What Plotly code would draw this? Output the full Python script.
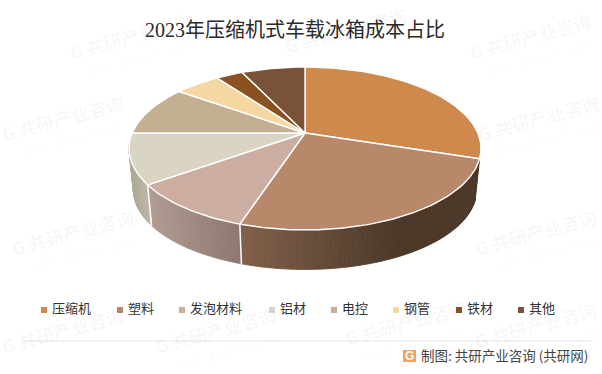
import math
import plotly.graph_objects as go

# ---- data ----
categories = ["压缩机", "塑料", "发泡材料", "铝材", "电控", "钢管", "铁材", "其他"]
values = [30, 25, 10, 10, 10, 5, 3, 7]
title_text = "2023年压缩机式车载冰箱成本占比"
source_text = "制图: 共研产业咨询 (共研网)"

# ---- styles ----
colors = ["#D0894C", "#B8886B", "#CBADA1", "#DAD5C3", "#C4AF92", "#F5D7A2", "#8A5220", "#7A5238"]
side_ramp = {1: ("#806049", "#4A3728"), 2: ("#B19B92", "#8C7870"), 3: ("#B0A998", "#BDB6A5")}
legend_marker_x = [44, 120, 182, 272, 334, 396, 459, 521]
legend_y = 310

APEX_X, APEX_Y = 305, 133
A, B, K = 172.8, 78.5, 0.19   # perspective disc
S, D = 0.975, 42              # base of the cylinder
FONT = "Noto Sans CJK SC"


def rim(t):
    """Point on the tilted disc, t = clockwise angle from 12 o'clock (radians)."""
    X, Y = math.sin(t), math.cos(t)
    w = 1 + K * Y
    return APEX_X + A * X / w, APEX_Y - B * Y / w


def base(t):
    x, y = rim(t)
    return APEX_X + S * (x - APEX_X), APEX_Y + S * (y - APEX_Y) + D


def hex2rgb(h):
    return tuple(int(h[i:i + 2], 16) for i in (1, 3, 5))


def mix(c0, c1, f):
    f = max(0.0, min(1.0, f))
    a, b = hex2rgb(c0), hex2rgb(c1)
    return "rgb(%d,%d,%d)" % tuple(round(a[i] + (b[i] - a[i]) * f) for i in range(3))


total = sum(values)
edges = [0.0]
for v in values:
    edges.append(edges[-1] + v / total * 2 * math.pi)

fig = go.Figure()

# side wall: vertical strips of each slice visible in front
for i, c in side_ramp.items():
    t0, t1 = edges[i], min(edges[i + 1], 1.5 * math.pi)
    n = 70 if i == 1 else 24
    xa, xb = rim(t0)[0], rim(t1)[0]
    for j in range(n):
        u0, u1 = t0 + (t1 - t0) * j / n, t0 + (t1 - t0) * (j + 1) / n
        pts = [rim(u0), rim(u1), base(u1), base(u0)]
        xm = rim((u0 + u1) / 2)[0]
        if i == 1:
            f = (xm - 241) / (400 - 241)
            col = mix(c[0], c[1], f)
        else:
            lo, hi = min(xa, xb), max(xa, xb)
            col = mix(c[0], c[1], (xm - lo) / (hi - lo))
        fig.add_trace(go.Scatter(x=[p[0] for p in pts] + [pts[0][0]], y=[p[1] for p in pts] + [pts[0][1]],
                                 mode="lines", fill="toself", fillcolor=col,
                                 line=dict(color=col, width=0.8), hoverinfo="skip", showlegend=False))

# white separators on the wall
for i in (2, 3):
    p, q = rim(edges[i]), base(edges[i])
    fig.add_trace(go.Scatter(x=[p[0], q[0]], y=[p[1], q[1]], mode="lines",
                             line=dict(color="white", width=1.5), hoverinfo="skip", showlegend=False))

# top face
for i, name in enumerate(categories):
    n = max(6, int(values[i] * 3))
    ts = [edges[i] + (edges[i + 1] - edges[i]) * j / n for j in range(n + 1)]
    pts = [(APEX_X, APEX_Y)] + [rim(t) for t in ts] + [(APEX_X, APEX_Y)]
    fig.add_trace(go.Scatter(x=[p[0] for p in pts], y=[p[1] for p in pts], mode="lines", fill="toself",
                             fillcolor=colors[i], line=dict(color="white", width=1.4),
                             name=name, text=f"{name}: {values[i]}%", hoverinfo="text", showlegend=False))

# legend
fig.add_trace(go.Scatter(x=legend_marker_x, y=[legend_y] * len(categories), mode="markers",
                         marker=dict(symbol="square", size=6, color=colors),
                         hoverinfo="skip", showlegend=False))
fig.add_trace(go.Scatter(x=[x + 8 for x in legend_marker_x], y=[legend_y] * len(categories), mode="text",
                         text=categories, textposition="middle right",
                         textfont=dict(family=FONT, size=13, color="#333333"),
                         hoverinfo="skip", showlegend=False))

annotations = []

# faint watermark tiles, only where the reference shows them clear of the pie
wm_main = "G 共研产业咨询"
wm_sub = "w w w . g o n y n . c o m"
WM = "rgba(0,0,0,0.04)"
for (x, y, sub) in [(130, 36, True), (345, 30, False), (530, 36, True), (538, 118, True), (62, 118, True),
                    (72, 232, True), (535, 232, True), (215, 330, True), (405, 322, True),
                    (62, 330, False), (535, 325, True)]:
    annotations.append(dict(x=x, y=y, text="<b>" + wm_main + "</b>", showarrow=False, textangle=-15,
                            font=dict(family=FONT, size=18, color=WM)))
    if sub:
        annotations.append(dict(x=x + 10, y=y + 20, text=wm_sub, showarrow=False, textangle=-15,
                                font=dict(family=FONT, size=10, color=WM)))

annotations += [
    dict(x=295, y=30, text=title_text, showarrow=False, font=dict(family="Liberation Serif, " + FONT, size=20, color="#2A2A2A")),
    dict(x=590, y=355, xanchor="right", text=source_text, showarrow=False, font=dict(family=FONT, size=13.5, color="#444444")),
    dict(x=409.5, y=356, text="<b>G</b>", showarrow=False, font=dict(family="Liberation Sans", size=12, color="white")),
]

shapes = [
    dict(type="line", x0=20, x1=593, y0=341, y1=341, line=dict(color="#E6E6E6", width=1), layer="below"),
    dict(type="rect", x0=403, x1=416, y0=350, y1=362, fillcolor="#F4A261", line=dict(width=0), layer="below"),
]

fig.update_layout(
    width=602, height=374, margin=dict(l=0, r=0, t=0, b=0),
    paper_bgcolor="white", plot_bgcolor="rgba(0,0,0,0)",
    xaxis=dict(range=[0, 602], visible=False, fixedrange=True),
    yaxis=dict(range=[374, 0], visible=False, fixedrange=True),
    annotations=annotations, shapes=shapes, showlegend=False,
)
fig.write_html("out.html", config={"displayModeBar": False},
               post_script="document.body.style.margin='0';document.body.style.overflow='hidden';")
